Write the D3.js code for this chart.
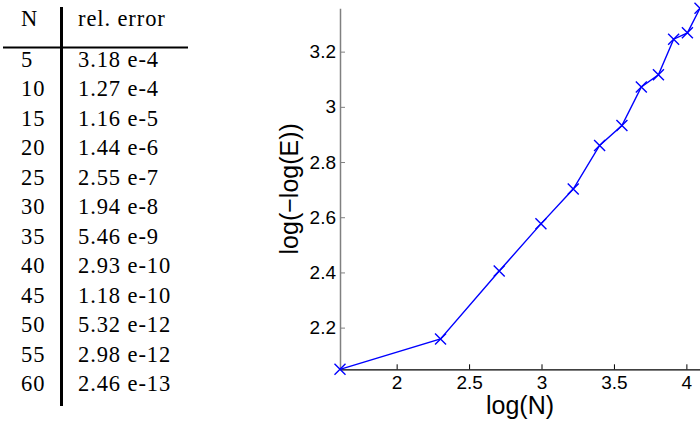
<!DOCTYPE html>
<html><head><meta charset="utf-8">
<script src="https://cdn.jsdelivr.net/npm/d3@7"></script>
<style>body{margin:0;background:#fff}</style>
</head><body>
<svg id="c" width="700" height="434"></svg>
<script>
// ---- data ----
const tableHeader = ["N", "rel. error"];
const nValues = [5, 10, 15, 20, 25, 30, 35, 40, 45, 50, 55, 60];
const relErrors = ["3.18 e-4", "1.27 e-4", "1.16 e-5", "1.44 e-6", "2.55 e-7", "1.94 e-8",
                   "5.46 e-9", "2.93 e-10", "1.18 e-10", "5.32 e-12", "2.98 e-12", "2.46 e-13"];
const logN = [1.609, 2.303, 2.708, 2.996, 3.219, 3.401, 3.555, 3.689, 3.807, 3.912, 4.007, 4.094];
const logNegLogE = [2.049, 2.159, 2.405, 2.576, 2.702, 2.860, 2.932, 3.072, 3.116, 3.245, 3.268, 3.357];
const xTicks = [2, 2.5, 3, 3.5, 4];
const yTicks = [2.2, 2.4, 2.6, 2.8, 3, 3.2];
const xLabel = "log(N)";
const yLabel = "log(\u2212log(E))";

const svg = d3.select("#c");

// ---- table ----
const serif = "'Liberation Serif', 'Times New Roman', serif";
const tbl = svg.append("g").attr("font-family", serif).attr("font-size", 22.5)
  .attr("letter-spacing", 0.9).attr("fill", "#000");
const rowY = d3.scaleLinear().domain([0, 1]).range([67, 96.45]);
tbl.append("text").attr("x", 21).attr("y", 26).text(tableHeader[0]);
tbl.append("text").attr("x", 78).attr("y", 26).text(tableHeader[1]);
tbl.selectAll("text.n").data(nValues).join("text").attr("class", "n")
  .attr("x", 21).attr("y", (d, i) => rowY(i)).text(d => d);
tbl.selectAll("text.e").data(relErrors).join("text").attr("class", "e")
  .attr("x", 78).attr("y", (d, i) => rowY(i)).text(d => d);
svg.append("line").attr("x1", 3).attr("x2", 188).attr("y1", 47.5).attr("y2", 47.5)
  .attr("stroke", "#000").attr("stroke-width", 2);
svg.append("line").attr("x1", 61.5).attr("x2", 61.5).attr("y1", 7).attr("y2", 406)
  .attr("stroke", "#000").attr("stroke-width", 3);

// ---- plot ----
const sans = "'Liberation Sans', Arial, Helvetica, sans-serif";
const x = d3.scaleLinear().domain([logN[0], logN[logN.length - 1]]).range([340, 700]);
const y = d3.scaleLinear().domain([logNegLogE[0], logNegLogE[logNegLogE.length - 1]]).range([369.3, 8.3]);

const gx = svg.append("g").attr("transform", `translate(0,${y.range()[0]})`)
  .call(d3.axisBottom(x).tickValues(xTicks).tickFormat(d3.format("")).tickSizeInner(-5).tickSizeOuter(0).tickPadding(6));
gx.select(".domain").attr("stroke", "#000").attr("stroke-width", 1.2);
gx.selectAll(".tick line").attr("stroke", "#000");
gx.selectAll(".tick text").attr("font-family", sans).attr("font-size", 19).attr("fill", "#000");

const gy = svg.append("g").attr("transform", `translate(${x.range()[0]},0)`)
  .call(d3.axisLeft(y).tickValues(yTicks).tickFormat(d3.format("")).tickSizeInner(-5).tickSizeOuter(0).tickPadding(4));
gy.select(".domain").attr("stroke", "#808080").attr("stroke-width", 1.5);
gy.selectAll(".tick line").attr("stroke", "#808080");
gy.selectAll(".tick text").attr("font-family", sans).attr("font-size", 19).attr("fill", "#000");

const pts = logN.map((v, i) => [v, logNegLogE[i]]);
svg.append("path").datum(pts)
  .attr("d", d3.line().x(d => x(d[0])).y(d => y(d[1])))
  .attr("fill", "none").attr("stroke", "#0000ff").attr("stroke-width", 1.4);
const m = 5.5;
const mk = svg.append("g").attr("stroke", "#0000ff").attr("stroke-width", 1.4);
mk.selectAll("path").data(pts).join("path")
  .attr("d", d => {
    const px = x(d[0]), py = y(d[1]);
    return `M${px - m},${py - m}L${px + m},${py + m}M${px - m},${py + m}L${px + m},${py - m}`;
  });

svg.append("text").attr("x", (x.range()[0] + x.range()[1]) / 2).attr("y", 414)
  .attr("text-anchor", "middle").attr("font-family", sans).attr("font-size", 25).text(xLabel);
svg.append("text").attr("transform", `translate(298,${(y.range()[0] + y.range()[1]) / 2}) rotate(-90)`)
  .attr("text-anchor", "middle").attr("font-family", sans).attr("font-size", 25).text(yLabel);
</script>
</body></html>
